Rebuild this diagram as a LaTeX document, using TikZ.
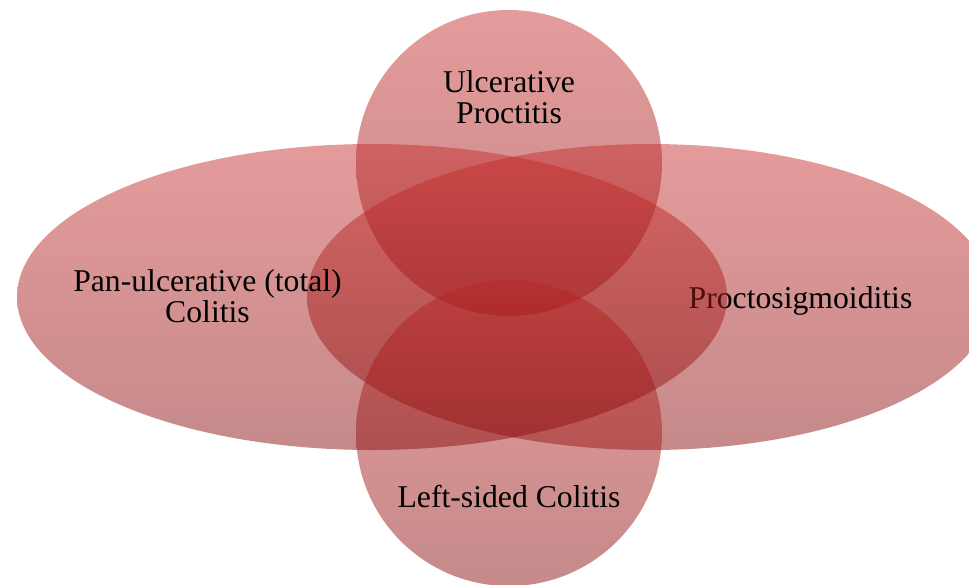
\documentclass[tikz,border=0pt]{standalone}
\usepackage{fontspec}
\setmainfont{Liberation Serif}
\definecolor{lobetop}{RGB}{200,45,45}
\definecolor{lobebottom}{RGB}{135,10,10}
\tikzset{
  lobe/.style={top color=lobetop, bottom color=lobebottom, fill opacity=0.48, draw=none},
  lobelabel/.style={text=black, align=center, font=\fontsize{31.7}{31}\selectfont, inner sep=0pt}
}
\begin{document}
\begin{tikzpicture}[x=1pt,y=-1pt]
    % Fix the page to the size of the original picture, cutting off what sticks out
    \useasboundingbox (0,0) rectangle (969,584);
    \clip (0,0) rectangle (969,584);
    % Top circle with its label
    \shade[lobe] (509,163) circle (153);
    \node[lobelabel] (proctitis) at (509,97) {Ulcerative\\Proctitis};
    % Right ellipse, its label lies under the left ellipse
    \shade[lobe] (650,297) ellipse (343 and 153);
    \node[lobelabel, anchor=base] (sigmoid) at (800.5,308) {Proctosigmoiditis};
    % Bottom circle
    \shade[lobe] (509,433) circle (153);
    \node[lobelabel, anchor=base] (leftsided) at (509,507) {Left-sided Colitis};
    % Left ellipse on top of everything
    \shade[lobe] (372,297) ellipse (355 and 153);
    \node[lobelabel] (pancolitis) at (207.5,296.5) {Pan-ulcerative (total)\\Colitis};
\end{tikzpicture}
\end{document}
